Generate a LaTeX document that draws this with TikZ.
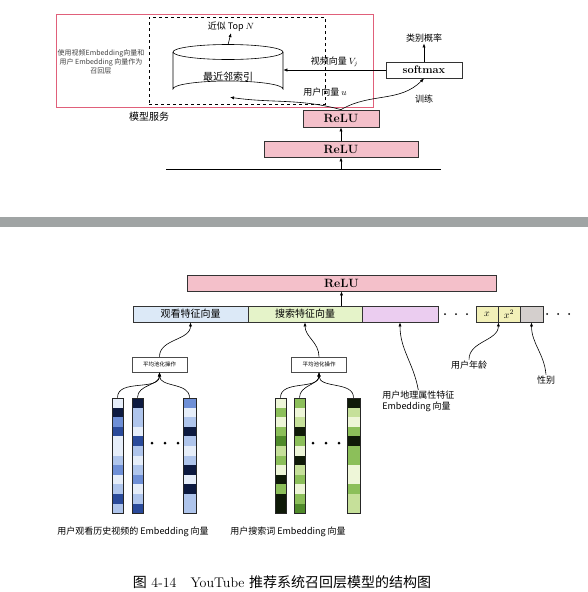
\documentclass[tikz,border=0pt]{standalone}
\usepackage{fontspec}
\usepackage{tikz}
\usetikzlibrary{arrows}
\usetikzlibrary{arrows.meta}
\usetikzlibrary{positioning}
\newfontfamily\cjk{Noto Sans CJK SC}
\definecolor{relupink}{HTML}{F4C0CA}
\definecolor{servered}{HTML}{E0607A}
\definecolor{bandgray}{HTML}{A0A4A4}
\definecolor{watchblue}{HTML}{DCE9F7}
\definecolor{searchgreen}{HTML}{E5F3C9}
\definecolor{geopurple}{HTML}{EBCDF0}
\definecolor{ageyellow}{HTML}{F2F0B8}
\definecolor{sexgray}{HTML}{D4CFCD}
\definecolor{bl0}{HTML}{E6EEFA}
\definecolor{bl1}{HTML}{AFC5EC}
\definecolor{bl2}{HTML}{6E8FD6}
\definecolor{bl3}{HTML}{2A4A9A}
\definecolor{bl4}{HTML}{0D1A40}
\definecolor{gr0}{HTML}{EEF6D8}
\definecolor{gr1}{HTML}{C6E09A}
\definecolor{gr2}{HTML}{8CBF5A}
\definecolor{gr3}{HTML}{4F8A2A}
\definecolor{gr4}{HTML}{0F1A08}
\newcommand{\embcol}[4]{%
  \foreach \col [count=\i from 0] in {#4} {
    \fill[\col] (#2-#3/2,398+\i*9.6) rectangle (#2+#3/2,398+\i*9.6+9.6);
  }
  \node[draw=black!85, thick, inner sep=0pt, minimum width=#3pt, minimum height=115pt] (#1) at (#2,455.5) {};
}

\begin{document}
\begin{tikzpicture}[x=1pt,y=-1pt,semithick,>={Latex[length=4pt,width=3.2pt]}]
\tikzset{box/.style={draw=black!80, thick, inner sep=0pt, minimum height=16pt},
  relu/.style={box, fill=relupink, font=\bfseries\fontsize{12}{12}\selectfont},
  feat/.style={box, font=\cjk\fontsize{10}{10}\selectfont},
  txt/.style={inner sep=1pt, font=\cjk\fontsize{9}{11}\selectfont},
  pool/.style={draw=black!70, inner sep=0pt, minimum width=55pt, minimum height=15pt, font=\cjk\fontsize{5.5}{5.5}\selectfont}}
\useasboundingbox (0,0) rectangle (588,592);

\node[draw=servered, thick, minimum width=317pt, minimum height=93pt, inner sep=0pt] (serve) at (214.5,60.5) {};
\node[draw, dashed, thick, minimum width=176pt, minimum height=87pt, inner sep=0pt] (knn) at (237,60.5) {};
\node[txt, align=center, text=black!75, font=\cjk\fontsize{7}{9}\selectfont] (note) at (101,62) {使用视频Embedding向量和\\用户 Embedding 向量作为\\召回层};
\node[txt, font=\cjk\fontsize{10}{10}\selectfont] (servelab) at (149,117) {模型服务};

\draw (173,52) -- (173,89) arc[start angle=180, end angle=360, x radius=55, y radius=8] -- (283,52);
\draw (228,52) ellipse[x radius=55, y radius=7.5];
\node[minimum width=110pt, minimum height=52pt, inner sep=0pt] (idx) at (228,71) {};
\node[txt, font=\cjk\fontsize{10}{10}\selectfont] (idxlab) at (228,77) {最近邻索引};
\node[txt] (topn) at (231,27) {近似 Top $N$};
\draw[->] (idx.north) -- (topn.south);

\node[box, minimum width=76pt, font=\bfseries\fontsize{11}{11}\selectfont] (sm) at (424,70) {softmax};
\node[txt] (prob) at (424,38) {类别概率};
\draw[->] (sm.north) -- (prob.south);
\draw[->] (sm.west) -- (sm.west -| idx.east) node[txt, midway, above=2pt] {视频向量 $V_j$};
\node[txt] (ulab) at (325,92) {用户向量 $u$};
\node[txt] (train) at (424,99) {训练};

\node[relu, minimum width=76pt, minimum height=17pt] (relu1) at (341,118.5) {ReLU};
\node[relu, minimum width=154pt] (relu2) at (341,149) {ReLU};
\coordinate (inl) at (166,169);
\coordinate (inr) at (441,169);
\draw (inl) -- (inr);
\draw[->] (relu2.south |- inl) -- (relu2.south);
\draw[->] (relu2.north) -- (relu1.south);
\draw[->] (relu1.north) to[out=165, in=-8] ([xshift=2pt]idx.south);
\draw[->] (relu1.north) to[out=30, in=-135] (sm.south);

\fill[bandgray] (0,217) rectangle (588,227);

\node[relu, minimum width=309pt] (relu3) at (341.5,283) {ReLU};
\node[feat, fill=watchblue, minimum width=115pt] (watch) at (190.5,314) {观看特征向量};
\node[feat, fill=searchgreen, minimum width=114pt] (search) at (305,314) {搜索特征向量};
\node[feat, fill=geopurple, minimum width=76pt] (geo) at (400,314) {};
\node[box, fill=ageyellow, minimum width=22pt] (xa) at (487,314) {$x$};
\node[box, fill=ageyellow, minimum width=22pt] (xb) at (509,314) {$x^2$};
\node[box, fill=sexgray, minimum width=23pt] (sex) at (531.5,314) {};
\foreach \x in {445,456,467,547,558,569} \fill (\x,314) circle (1pt);
\draw[->] (search.north -| relu3.south) -- (relu3.south);

\node[pool] (pool1) at (159.5,364.5) {平均池化操作};
\node[pool] (pool2) at (319,364.5) {平均池化操作};
\draw[->] (pool1.north) to[out=90, in=-90] (watch.south);
\draw[->] (pool2.north) to[out=90, in=-90] (search.south);

\embcol{bv1}{117.5}{11}{bl0,bl4,bl2,bl3,bl0,bl0,bl1,bl2,bl0,bl1,bl3,bl1}
\embcol{bv2}{137.5}{11}{bl4,bl1,bl1,bl0,bl3,bl1,bl0,bl1,bl2,bl0,bl1,bl3}
\embcol{bv3}{189.5}{13}{bl2,bl0,bl1,bl4,bl1,bl0,bl1,bl4,bl0,bl4,bl1,bl1}
\embcol{gv1}{280.5}{11}{gr0,gr2,gr0,gr2,gr3,gr1,gr2,gr0,gr4,gr2,gr4,gr4}
\embcol{gv2}{299.5}{11}{gr2,gr0,gr1,gr4,gr2,gr0,gr4,gr1,gr2,gr0,gr2,gr3}
\embcol{gv3}{353.5}{13}{gr4,gr1,gr0,gr2,gr4,gr2,gr2,gr0,gr0,gr2,gr1,gr1}
\foreach \x in {152,165,178,313,326,339} \fill (\x,443) circle (1.5pt);
\foreach \v in {bv1,bv2,bv3} \draw[->] (\v.north) to[out=90, in=-90] (pool1.south);
\foreach \v in {gv1,gv2,gv3} \draw[->] (\v.north) to[out=90, in=-90] (pool2.south);

\node[txt] (blab) at (133,532) {用户观看历史视频的 Embedding 向量};
\node[txt] (glab) at (288,532) {用户搜索词 Embedding 向量};
\node[txt, align=left, anchor=north west] (geolab) at (381,390) {用户地理属性特征\\Embedding 向量};
\node[txt] (age) at (469,365) {用户年龄};
\node[txt] (sexlab) at (546,380) {性别};
\draw[->] (geolab.north) to[out=100, in=-90] (geo.south);
\draw[->] (age.north) to[out=90, in=-90] (xa.south east);
\draw[->] (sexlab.north) to[out=95, in=-90] (sex.south);

\node[inner sep=0pt, font=\fontsize{14}{14}\selectfont] (caption) at (282,582) {{\cjk 图} 4-14\quad YouTube {\cjk 推荐系统召回层模型的结构图}};
\end{tikzpicture}
\end{document}
